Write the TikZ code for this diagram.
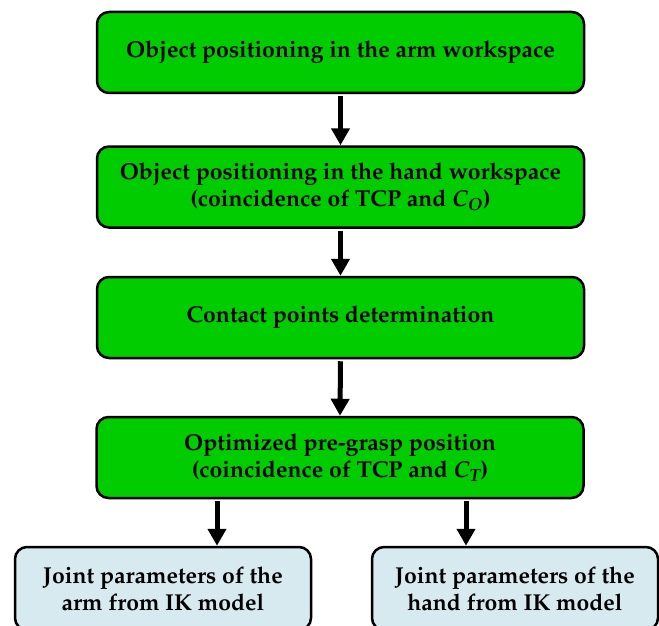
\documentclass[tikz,border=0pt]{standalone}
\usepackage[T1]{fontenc}
\usepackage{mathpazo}
\usetikzlibrary{arrows.meta}
\definecolor{boxgreen}{RGB}{0,204,0}
\definecolor{boxblue}{RGB}{214,234,240}
\newcommand{\symC}[1]{{\itshape C}\textsubscript{\itshape #1}}
\tikzset{
  gbox/.style={draw=black, line width=2.5pt, rounded corners=12pt, fill=boxgreen,
    minimum width=487pt, minimum height=81pt, align=center, inner sep=0pt,
    font=\fontsize{23}{27}\selectfont\bfseries},
  bbox/.style={draw=black, line width=2.5pt, rounded corners=12pt, fill=boxblue,
    minimum height=83pt, align=center, inner sep=0pt,
    font=\fontsize{23}{27}\selectfont\bfseries},
  arr/.style={line width=5pt, -{Triangle[length=17pt,width=18pt]}, shorten <=2pt}
}
\begin{document}
\begin{tikzpicture}[x=1pt,y=-1pt]
\useasboundingbox (0,0) rectangle (659,626);
\node[gbox] (b1) at (340.5,52.5) {Object positioning in the arm workspace};
\node[gbox] (b2) at (340.5,187) {Object positioning in the hand workspace\\(coincidence of TCP and \symC{O})};
\node[gbox] (b3) at (340.5,317.5) {Contact points determination};
\node[gbox] (b4) at (340,457.5) {Optimized pre-grasp position\\(coincidence of TCP and \symC{T})};
\node[bbox, minimum width=296pt] (bl) at (163,588.5) {Joint parameters of the\\arm from IK model};
\node[bbox, minimum width=286pt] (br) at (515,588.5) {Joint parameters of the\\hand from IK model};
\coordinate (xa) at (217,0);
\coordinate (xb) at (466,0);
\draw[arr] (b1.south -| b1.center) -- (b2.north);
\draw[arr] (b2.south) -- (b3.north);
\draw[arr] (b3.south) -- (b4.north);
\draw[arr] (b4.south -| xa) -- (bl.north -| xa);
\draw[arr] (b4.south -| xb) -- (br.north -| xb);
\end{tikzpicture}
\end{document}
